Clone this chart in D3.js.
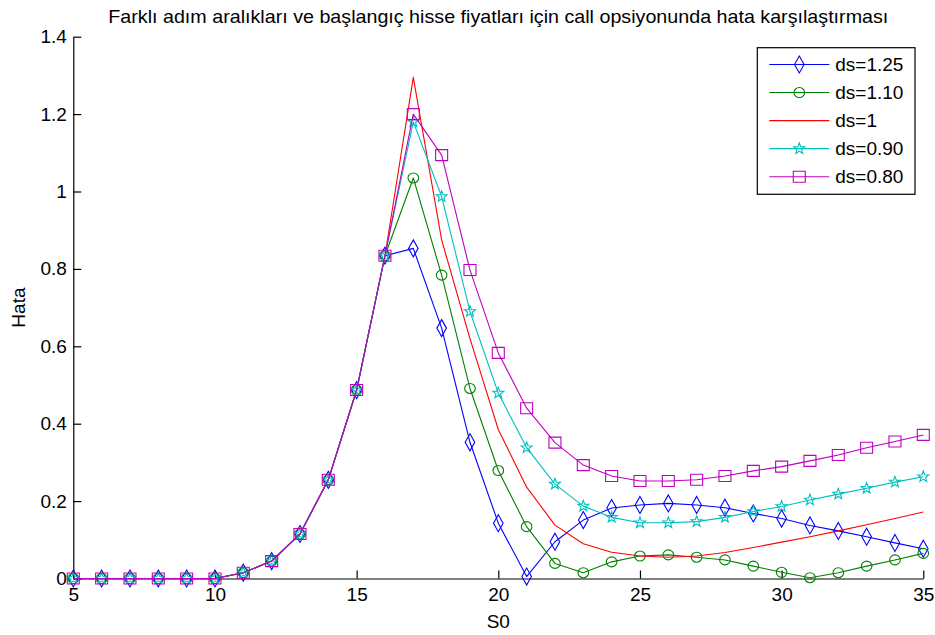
<!DOCTYPE html>
<html>
<head>
<meta charset="utf-8">
<script src="https://cdn.jsdelivr.net/npm/d3@7"></script>
<style>
  html, body { margin: 0; padding: 0; background: #fff; }
  svg { display: block; }
  text { font-family: "Liberation Sans", Arial, Helvetica, sans-serif; fill: #000; }
</style>
</head>
<body>
<svg id="chart" width="935" height="635"></svg>
<script>
// Starting stock prices (x axis)
const s0 = [5, 6, 7, 8, 9, 10, 11, 12, 13, 14, 15, 16, 17, 18, 19, 20,
            21, 22, 23, 24, 25, 26, 27, 28, 29, 30, 31, 32, 33, 34, 35];

// Error of the call option price for each step size
const ds125 = [0, 0, 0, 0, 0, 0, 0.015, 0.045, 0.115, 0.255, 0.487, 0.834,
               0.853, 0.647, 0.352, 0.143, 0.005, 0.095, 0.151, 0.182, 0.190, 0.194,
               0.190, 0.183, 0.168, 0.155, 0.137, 0.123, 0.108, 0.092, 0.077];
const ds110 = [0, 0, 0, 0, 0, 0, 0.015, 0.045, 0.115, 0.255, 0.487, 0.834,
               1.035, 0.784, 0.491, 0.279, 0.134, 0.039, 0.015, 0.043, 0.058, 0.061,
               0.055, 0.048, 0.032, 0.016, 0.002, 0.015, 0.032, 0.048, 0.065];
const ds100 = [0, 0, 0, 0, 0, 0, 0.015, 0.045, 0.115, 0.255, 0.487, 0.834,
               1.295, 0.875, 0.620, 0.385, 0.236, 0.138, 0.090, 0.068, 0.058, 0.055,
               0.058, 0.067, 0.080, 0.094, 0.108, 0.123, 0.139, 0.155, 0.172];
const ds090 = [0, 0, 0, 0, 0, 0, 0.015, 0.045, 0.115, 0.255, 0.487, 0.834,
               1.180, 0.987, 0.690, 0.479, 0.338, 0.244, 0.187, 0.158, 0.144, 0.144,
               0.147, 0.158, 0.173, 0.186, 0.203, 0.218, 0.233, 0.249, 0.263];
const ds080 = [0, 0, 0, 0, 0, 0, 0.015, 0.045, 0.115, 0.255, 0.487, 0.834,
               1.200, 1.094, 0.797, 0.583, 0.440, 0.351, 0.293, 0.265, 0.252, 0.252,
               0.255, 0.265, 0.278, 0.289, 0.304, 0.319, 0.338, 0.354, 0.371];

const seriesNames = ["ds=1.25", "ds=1.10", "ds=1", "ds=0.90", "ds=0.80"];
const seriesValues = [ds125, ds110, ds100, ds090, ds080];
const seriesColors = ["#0000ff", "#008000", "#ff0000", "#00bfbf", "#bf00bf"];
const seriesMarkers = ["diamond", "circle", "none", "star", "square"];

const xTicks = [5, 10, 15, 20, 25, 30, 35];
const yTicks = [0, 0.2, 0.4, 0.6, 0.8, 1, 1.2, 1.4];

const titleText = "Farklı adım aralıkları ve başlangıç hisse fiyatları için call opsiyonunda hata karşılaştırması";
const xLabel = "S0";
const yLabel = "Hata";

// ---- layout ----
const plot = { left: 73.3, right: 923.3, top: 36.7, bottom: 578.5 };
const fontSize = 19;

const svg = d3.select("#chart");

const x = d3.scaleLinear().domain([5, 35]).range([plot.left, plot.right]);
const y = d3.scaleLinear().domain([0, 1.4]).range([plot.bottom, plot.top]);

// marker shapes
function markerPath(type) {
  switch (type) {
    case "diamond": {
      const w = 4.8, h = 8.5;
      return `M0,${-h}L${w},0L0,${h}L${-w},0Z`;
    }
    case "square": {
      const w = 6, h = 5.5;
      return `M${-w},${-h}H${w}V${h}H${-w}Z`;
    }
    case "circle": {
      const rx = 5.3, ry = 5;
      return `M${-rx},0A${rx},${ry} 0 1,0 ${rx},0A${rx},${ry} 0 1,0 ${-rx},0Z`;
    }
    case "star": {
      const R = 5.8, r = 2.4;
      const pts = [];
      for (let i = 0; i < 10; i++) {
        const a = -Math.PI / 2 + i * Math.PI / 5;
        const rad = i % 2 === 0 ? R : r;
        pts.push([rad * Math.cos(a), rad * Math.sin(a)]);
      }
      return "M" + pts.map(p => p[0].toFixed(2) + "," + p[1].toFixed(2)).join("L") + "Z";
    }
    default:
      return null;
  }
}

// ---- axes ----
const xAxis = d3.axisBottom(x)
  .tickValues(xTicks)
  .tickFormat(d3.format("d"))
  .tickSizeInner(-8)
  .tickSizeOuter(0)
  .tickPadding(9.5);

const yAxis = d3.axisLeft(y)
  .tickValues(yTicks)
  .tickFormat(d => String(+d.toFixed(1)))
  .tickSizeInner(-8)
  .tickSizeOuter(0)
  .tickPadding(6.5);

const gx = svg.append("g")
  .attr("transform", `translate(0,${plot.bottom})`)
  .call(xAxis);
const gy = svg.append("g")
  .attr("transform", `translate(${plot.left},0)`)
  .call(yAxis);

[gx, gy].forEach(g => {
  g.select(".domain").attr("stroke", "#000").attr("stroke-width", 1.2);
  g.selectAll(".tick line").attr("stroke", "#000").attr("stroke-width", 1.2);
  g.selectAll(".tick text")
    .attr("font-family", '"Liberation Sans", Arial, sans-serif')
    .attr("font-size", fontSize)
    .attr("fill", "#000");
});

// ---- series ----
const line = d3.line()
  .x((d, i) => x(s0[i]))
  .y(d => y(d));

const seriesG = svg.append("g");
seriesValues.forEach((vals, k) => {
  const g = seriesG.append("g");
  g.append("path")
    .datum(vals)
    .attr("d", line)
    .attr("fill", "none")
    .attr("stroke", seriesColors[k])
    .attr("stroke-width", 1.1)
    .attr("stroke-linejoin", "round");
  const mp = markerPath(seriesMarkers[k]);
  if (mp) {
    g.selectAll("path.mk")
      .data(vals)
      .join("path")
      .attr("class", "mk")
      .attr("transform", (d, i) => `translate(${x(s0[i])},${y(d)})`)
      .attr("d", mp)
      .attr("fill", "none")
      .attr("stroke", seriesColors[k])
      .attr("stroke-width", 1.1);
  }
});

// ---- title and labels ----
svg.append("text")
  .attr("x", (plot.left + plot.right) / 2)
  .attr("y", 23)
  .attr("text-anchor", "middle")
  .attr("font-size", fontSize)
  .attr("textLength", 780)
  .attr("lengthAdjust", "spacingAndGlyphs")
  .text(titleText);

svg.append("text")
  .attr("x", (plot.left + plot.right) / 2)
  .attr("y", 628)
  .attr("text-anchor", "middle")
  .attr("font-size", fontSize)
  .text(xLabel);

svg.append("text")
  .attr("transform", `translate(25,${(plot.top + plot.bottom) / 2}) rotate(-90)`)
  .attr("text-anchor", "middle")
  .attr("font-size", fontSize)
  .text(yLabel);

// ---- legend ----
const legend = { left: 757.3, top: 47.7, width: 157.7, height: 146.6, firstRow: 64.5, rowGap: 28.05 };
const lg = svg.append("g");
lg.append("rect")
  .attr("x", legend.left)
  .attr("y", legend.top)
  .attr("width", legend.width)
  .attr("height", legend.height)
  .attr("fill", "#fff")
  .attr("stroke", "#000")
  .attr("stroke-width", 1.2);

seriesNames.forEach((name, k) => {
  const cy = legend.firstRow + k * legend.rowGap;
  const row = lg.append("g").attr("transform", `translate(0,${cy})`);
  row.append("line")
    .attr("x1", legend.left + 12).attr("x2", legend.left + 72)
    .attr("y1", 0).attr("y2", 0)
    .attr("stroke", seriesColors[k])
    .attr("stroke-width", 1.1);
  const mp = markerPath(seriesMarkers[k]);
  if (mp) {
    row.append("path")
      .attr("transform", `translate(${legend.left + 42},0)`)
      .attr("d", mp)
      .attr("fill", "none")
      .attr("stroke", seriesColors[k])
      .attr("stroke-width", 1.1);
  }
  row.append("text")
    .attr("x", legend.left + 78)
    .attr("y", 0)
    .attr("dy", "0.35em")
    .attr("font-size", fontSize)
    .text(name);
});
</script>
</body>
</html>
